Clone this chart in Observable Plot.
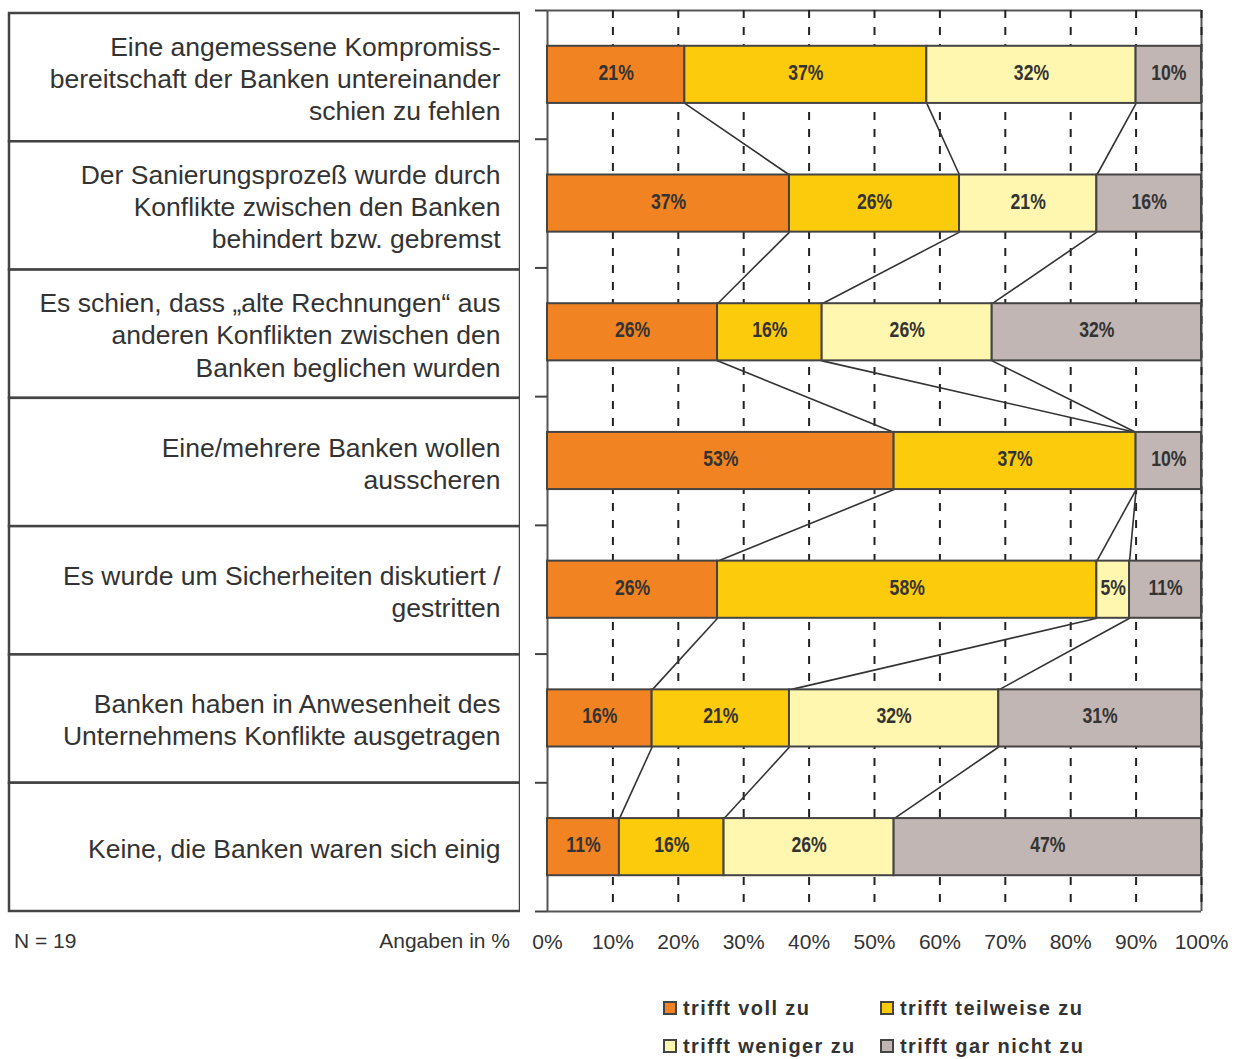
<!DOCTYPE html>
<html>
<head>
<meta charset="utf-8">
<script src="https://cdn.jsdelivr.net/npm/d3@7"></script>
<script src="https://cdn.jsdelivr.net/npm/@observablehq/plot@0.6"></script>
<style>
  body { margin: 0; background: #fff; }
  #wrap { position: relative; width: 1238px; height: 1059px; background: #fff;
          font-family: "Liberation Sans", Arial, Helvetica, sans-serif; color: #333; }
  .abs { position: absolute; }
  .note { font-size: 21px; color: #333; line-height: 24px; }
  .leg { position: absolute; font-weight: bold; font-size: 20px; letter-spacing: 1.4px; color: #333;
         display: flex; align-items: center; white-space: nowrap; }
  .sw { width: 10px; height: 10px; border: 2px solid #444; margin-right: 6px; display: inline-block; }
</style>
</head>
<body>
<div id="wrap">
  <div id="left" class="abs" style="left:0;top:0"></div>
  <div id="right" class="abs" style="left:520px;top:0"></div>
  <div class="abs note" style="left:14px;top:929px">N = 19</div>
  <div class="abs note" style="right:728px;top:929px">Angaben in %</div>
  <div id="legend"></div>
</div>
<script>
// ---- data ----
const categories = [
  "Eine angemessene Kompromiss-\nbereitschaft der Banken untereinander\nschien zu fehlen",
  "Der Sanierungsprozeß wurde durch\nKonflikte zwischen den Banken\nbehindert bzw. gebremst",
  "Es schien, dass „alte Rechnungen“ aus\nanderen Konflikten zwischen den\nBanken beglichen wurden",
  "Eine/mehrere Banken wollen\nausscheren",
  "Es wurde um Sicherheiten diskutiert /\ngestritten",
  "Banken haben in Anwesenheit des\nUnternehmens Konflikte ausgetragen",
  "Keine, die Banken waren sich einig"
];
const answers = ["trifft voll zu", "trifft teilweise zu", "trifft weniger zu", "trifft gar nicht zu"];
const vollZu      = [21, 37, 26, 53, 26, 16, 11];
const teilweiseZu = [37, 26, 16, 37, 58, 21, 16];
const wenigerZu   = [32, 21, 26,  0,  5, 32, 26];
const garNichtZu  = [10, 16, 32, 10, 11, 31, 47];
const xTicks = [0, 10, 20, 30, 40, 50, 60, 70, 80, 90, 100];
const colors = ["#F28322", "#FCCB0B", "#FFF7AF", "#C1B6B3"];

// ---- derived ----
const series = [vollZu, teilweiseZu, wenigerZu, garNichtZu];
const barHalf = 0.222;
const rows = categories.map((c, i) => {
  let cum = 0;
  return series.map((s, j) => {
    const seg = {row: i, answer: answers[j], value: s[i], x1: cum, x2: cum + s[i]};
    cum += s[i];
    return seg;
  });
});
const segments = rows.flat().filter(d => d.value > 0);
const links = [];
for (let r = 0; r < rows.length - 1; r++) {
  for (let k = 0; k < 3; k++) {
    links.push({x1: rows[r][k].x2, x2: rows[r + 1][k].x2, y1: r + barHalf, y2: r + 1 - barHalf});
  }
}
const boundaries = d3.range(categories.length + 1).map(i => i - 0.5);

// horizontally condensed text (Arial Narrow look)
function condense(factor) {
  return (index, scales, values, dims, context, next) => {
    const g = next(index, scales, values, dims, context);
    g.querySelectorAll("text").forEach(el => {
      const t = el.getAttribute("transform") || "";
      el.setAttribute("transform", (t ? t + " " : "") + `scale(${factor},1)`);
    });
    return g;
  };
}

// ---- left table ----
const table = categories.map((c, i) => ({c, i}));
const left = Plot.plot({
  width: 530, height: 920,
  marginLeft: 9, marginRight: 10, marginTop: 13, marginBottom: 9,
  x: {domain: [0, 1], axis: null},
  y: {domain: [-0.5, categories.length - 0.5], reverse: true, axis: null},
  style: {fontFamily: "'Liberation Sans', Arial, sans-serif", background: "white", overflow: "visible"},
  marks: [
    Plot.rect(table, {x1: () => 0, x2: () => 1, y1: d => d.i - 0.5, y2: d => d.i + 0.5,
      fill: "white", stroke: "#444", strokeWidth: 2.5}),
    Plot.text(table, {x: () => 1, y: "i", text: "c", textAnchor: "end", dx: -20,
      fontSize: 26.5, lineHeight: 1.21, fill: "#333"})
  ]
});
document.getElementById("left").appendChild(left);

// ---- right chart ----
const right = Plot.plot({
  width: 718, height: 960,
  marginLeft: 27, marginRight: 37, marginTop: 10, marginBottom: 49,
  x: {domain: [0, 100]},
  y: {domain: [-0.5, categories.length - 0.5], reverse: true},
  color: {domain: answers, range: colors},
  style: {fontFamily: "'Liberation Sans', Arial, sans-serif", background: "white", overflow: "visible", color: "#333"},
  marks: [
    Plot.ruleY([boundaries[0], boundaries[boundaries.length - 1]], {stroke: "#555", strokeWidth: 2}),
    Plot.ruleX([0, 100], {stroke: "#555", strokeWidth: 2}),
    Plot.ruleX(xTicks.slice(1), {stroke: "#222", strokeWidth: 2, strokeDasharray: "8,9"}),
    Plot.link(links, {x1: "x1", y1: "y1", x2: "x2", y2: "y2", stroke: "#333", strokeWidth: 1.6}),
    Plot.rect(segments, {x1: "x1", x2: "x2", y1: d => d.row - barHalf, y2: d => d.row + barHalf,
      fill: "answer", stroke: "#444", strokeWidth: 2}),
    Plot.text(segments, {x: d => (d.x1 + d.x2) / 2, y: "row", text: d => d.value + "%", dy: -2,
      fontWeight: "bold", fontSize: 22, fontFamily: "'Liberation Sans', Arial, sans-serif", fill: "#333",
      render: condense(0.8)}),
    Plot.axisY({ticks: boundaries, tickSize: 12, tickFormat: () => "", stroke: "#444", strokeWidth: 2}),
    Plot.axisX({ticks: xTicks, tickSize: 0, tickPadding: 23, tickFormat: d => d + "%", fontSize: 21, fill: "#333"})
  ]
});
document.getElementById("right").appendChild(right);

// ---- legend ----
const legendPos = [[663, 996], [880, 996], [663, 1034], [880, 1034]];
const legend = document.getElementById("legend");
answers.forEach((a, j) => {
  const el = document.createElement("div");
  el.className = "leg";
  el.style.left = legendPos[j][0] + "px";
  el.style.top = legendPos[j][1] + "px";
  el.style.height = "24px";
  const sw = document.createElement("span");
  sw.className = "sw";
  sw.style.background = colors[j];
  el.appendChild(sw);
  el.appendChild(document.createTextNode(a));
  legend.appendChild(el);
});
</script>
</body>
</html>
